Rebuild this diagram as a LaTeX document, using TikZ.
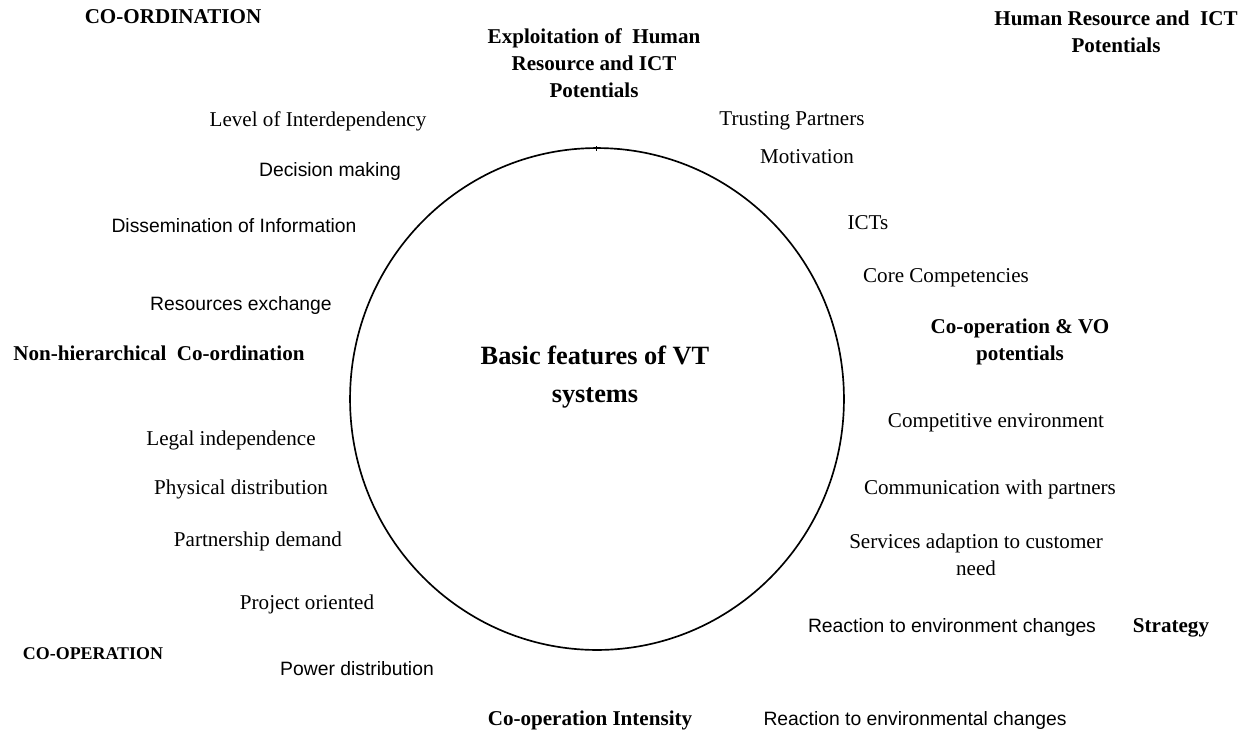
\documentclass[tikz,border=0pt]{standalone}
\usepackage{fontspec}
\setmainfont{Liberation Serif}
\setsansfont{Liberation Sans}
\usetikzlibrary{positioning}

\begin{document}
\begin{tikzpicture}[x=0.02cm,y=-0.02cm,
  lbl/.style={inner sep=0pt,align=center,font=\fontsize{12}{15.4}\selectfont},
  sanslbl/.style={inner sep=0pt,font=\sffamily\fontsize{11}{13}\selectfont},
  head/.style={inner sep=0pt,align=center,font=\bfseries\fontsize{12}{15.4}\selectfont}]
\useasboundingbox (0,0) rectangle (1248,731);
%der Kreis in der Mitte
\draw[line width=0.95pt] (597,399) ellipse [x radius=4.94cm, y radius=5.02cm];
\draw[line width=0.5pt] (596,146) -- (596,151);
\node[inner sep=0pt,align=center,font=\bfseries\fontsize{15}{21.6}\selectfont] (core) at (595,377) {Basic features of VT\\systems};
%Ueberschriften
\node[head] (coord) at (173,17) {CO-ORDINATION};
\node[head] (exploit) at (594,63) {Exploitation of\ \ Human\\Resource and ICT\\Potentials};
\node[head] (hrict) at (1116,32) {Human Resource and\ \ ICT\\Potentials};
\node[head] (nonhier) at (159,353) {Non-hierarchical\ \ Co-ordination};
\node[head] (coopvo) at (1020,342) {Co-operation \& VO\\potentials};
\node[head] (strat) at (1171,628) {Strategy};
\node[head,font=\bfseries\fontsize{10.2}{12}\selectfont] (coop) at (93,654) {CO-OPERATION};
\node[head] (intens) at (590,720) {Co-operation Intensity};
%linke Seite
\node[lbl] (interdep) at (318,121) {Level of Interdependency};
\node[sanslbl] (decide) at (330,171) {Decision making};
\node[sanslbl] (dissem) at (234,226) {Dissemination of Information};
\node[sanslbl] (resex) at (241,305) {Resources exchange};
\node[lbl] (legal) at (231,440) {Legal independence};
\node[lbl] (physdist) at (241,489) {Physical distribution};
\node[lbl] (partdem) at (258,541) {Partnership demand};
\node[lbl] (project) at (307,604) {Project oriented};
\node[sanslbl] (power) at (357,669) {Power distribution};
%rechte Seite
\node[lbl] (trust) at (792,121) {Trusting Partners};
\node[lbl] (motiv) at (807,157) {Motivation};
\node[lbl] (icts) at (868,223) {ICTs};
\node[lbl] (corecomp) at (946,278) {Core Competencies};
\node[lbl] (compenv) at (996,423) {Competitive environment};
\node[lbl] (commpart) at (990,489) {Communication with partners};
\node[lbl] (servad) at (976,555) {Services adaption to customer\\need};
\node[sanslbl] (react) at (952,627) {Reaction to environment changes};
\node[sanslbl] (reactal) at (915,720) {Reaction to environmental changes};
\end{tikzpicture}
\end{document}
